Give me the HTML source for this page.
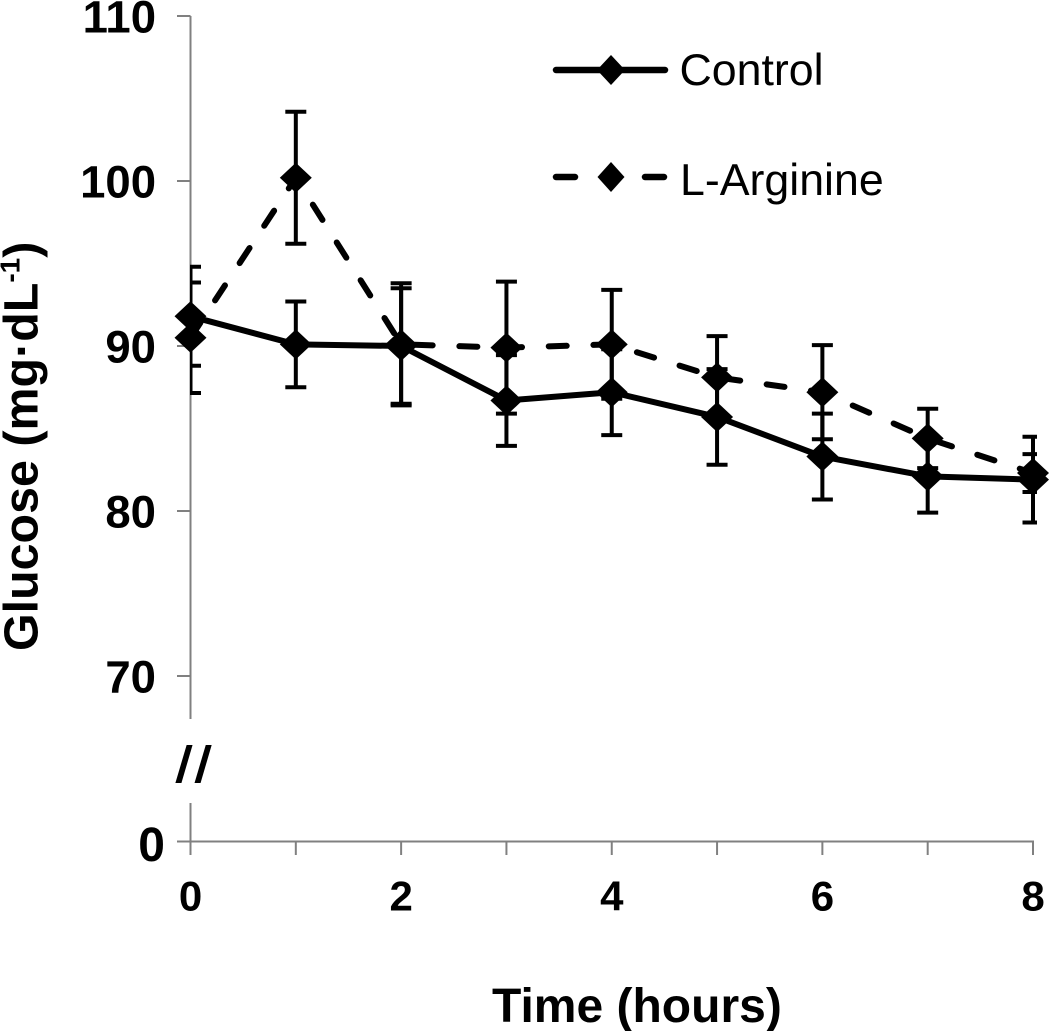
<!DOCTYPE html>
<html lang="en">
<head>
<meta charset="utf-8">
<title>Glucose over time</title>
<style>
html,body{margin:0;padding:0;background:#fff;width:1050px;height:1031px;overflow:hidden}
svg{display:block;font-family:"Liberation Sans",sans-serif}
</style>
</head>
<body>
<svg id="chart" width="1050" height="1031" viewBox="0 0 1050 1031" xmlns="http://www.w3.org/2000/svg">
  <defs>
    <clipPath id="plot-clip"><rect x="190" y="0" width="847" height="1031"/></clipPath>
  </defs>
  <rect width="1050" height="1031" fill="#fff"/>
  <g id="axes"></g>
  <g id="errors" clip-path="url(#plot-clip)"></g>
  <g id="lines"></g>
  <g id="markers"></g>
  <text transform="translate(175,782) skewX(-6)" font-size="51" font-weight="bold" letter-spacing="5" fill="#000">//</text>
  <text transform="translate(37.5,651) rotate(-90)" font-size="48.4" font-weight="bold" fill="#000">Glucose (mg·dL<tspan font-size="28" dy="-18">-1</tspan><tspan dy="18">)</tspan></text>
  <text x="492" y="1022" font-size="48" font-weight="bold" fill="#000">Time (hours)</text>
  <g>
    <g>
      <line x1="556" y1="70" x2="665" y2="70" stroke="#000" stroke-width="6.5" stroke-linecap="round"/>
      <polygon points="597,70 611,55 625,70 611,85" fill="#000"/>
      <text x="679.5" y="85" font-size="44.7" fill="#000">Control</text>
    </g>
    <g>
      <line x1="556" y1="177" x2="575" y2="177" stroke="#000" stroke-width="6.5" stroke-linecap="round"/>
      <polygon points="597.5,177 611,162 624.5,177 611,192" fill="#000"/>
      <line x1="645" y1="177" x2="664" y2="177" stroke="#000" stroke-width="6.5" stroke-linecap="round"/>
      <text x="680" y="195" font-size="44.7" fill="#000">L-Arginine</text>
    </g>
  </g>
</svg>
<script>
const hours = [0, 1, 2, 3, 4, 5, 6, 7, 8];
const controlValues = [91.8, 90.1, 90.0, 86.7, 87.2, 85.7, 83.3, 82.1, 81.9];
const controlErrors = [3.0, 2.6, 3.5, 2.75, 2.6, 2.9, 2.6, 2.2, 2.6];
const arginineValues = [90.5, 100.2, 90.1, 89.9, 90.1, 88.1, 87.2, 84.4, 82.3];
const arginineErrors = [3.35, 4.0, 3.7, 4.0, 3.3, 2.5, 2.85, 1.8, 1.15];
const yTicks = [0, 70, 80, 90, 100, 110];
const xTickLabels = [0, 2, 4, 6, 8];

const NS = 'http://www.w3.org/2000/svg';
const xScale = h => 190.5 + h * (1033 - 190.5) / 8;
const yScale = v => v <= 0 ? 841.5 : 346 - (v - 90) * 16.5;

function make(tag, parent, attrs) {
  const el = document.createElementNS(NS, tag);
  for (const k in attrs) el.setAttribute(k, attrs[k]);
  parent.appendChild(el);
  return el;
}

const axes = document.getElementById('axes');
const errorsG = document.getElementById('errors');
const linesG = document.getElementById('lines');
const markersG = document.getElementById('markers');
const axisStyle = { stroke: '#808080', 'stroke-width': 2 };

const yUpper = make('line', axes, { x1: xScale(0), x2: xScale(0), y1: yScale(110), y2: 719, ...axisStyle });


const yLower = make('line', axes, { x1: xScale(0), x2: xScale(0), y1: 803, y2: 855, ...axisStyle });


const xAxis = make('line', axes, { x1: 177, x2: xScale(8) + 1, y1: yScale(0), y2: yScale(0), ...axisStyle });



yTicks.forEach(v => {
  if (v > 0) {
    const t = make('line', axes, { x1: 177, x2: xScale(0), y1: yScale(v), y2: yScale(v), ...axisStyle });
    
    
  }
  const label = make('text', axes, {
    x: v === 0 ? 165 : 156, y: yScale(v) + (v === 0 ? 19.5 : 16.5),
    'text-anchor': 'end', 'font-size': v === 0 ? 48 : 45.5, 'font-weight': 'bold', fill: '#000'
  });
  label.textContent = v;
  
  
});

hours.forEach(h => {
  const t = make('line', axes, { x1: xScale(h), x2: xScale(h), y1: yScale(0), y2: 855, ...axisStyle });
  
  
});

xTickLabels.forEach(h => {
  const label = make('text', axes, {
    x: xScale(h), y: 910.5, 'text-anchor': 'middle', 'font-size': 42, 'font-weight': 'bold', fill: '#000'
  });
  label.textContent = h;
  
  
});

function drawErrors(values, errs) {
  hours.forEach((h, i) => {
    const x = xScale(h);
    const top = yScale(values[i] + errs[i]);
    const bot = yScale(values[i] - errs[i]);
    const stem = make('line', errorsG, { x1: x, x2: x, y1: top, y2: bot, stroke: '#000', 'stroke-width': 4 });
    
    
    [top, bot].forEach(y => {
      const cap = make('line', errorsG, { x1: x - 10.5, x2: x + 10.5, y1: y, y2: y, stroke: '#000', 'stroke-width': 4 });
      
      
    });
  });
}

function drawSeries(values, dash, lineName, markerName) {
  const pts = hours.map((h, i) => xScale(h) + ',' + yScale(values[i])).join(' ');
  const line = make('polyline', linesG, { points: pts, fill: 'none', stroke: '#000', 'stroke-width': 6, 'stroke-linejoin': 'round' });
  if (dash) {
    line.setAttribute('stroke-dasharray', dash);
    line.setAttribute('stroke-linecap', 'round');
  }
  
  
  hours.forEach((h, i) => {
    const x = xScale(h), y = yScale(values[i]);
    const m = make('polygon', markersG, {
      points: (x - 16) + ',' + y + ' ' + x + ',' + (y - 15) + ' ' + (x + 16) + ',' + y + ' ' + x + ',' + (y + 15),
      fill: '#000'
    });
    
    
  });
}

drawErrors(controlValues, controlErrors);
drawErrors(arginineValues, arginineErrors);
drawSeries(controlValues, null, 'control-line', 'control-marker');
drawSeries(arginineValues, '18 26.7', 'l-arginine-line', 'l-arginine-marker');
</script>
</body>
</html>
